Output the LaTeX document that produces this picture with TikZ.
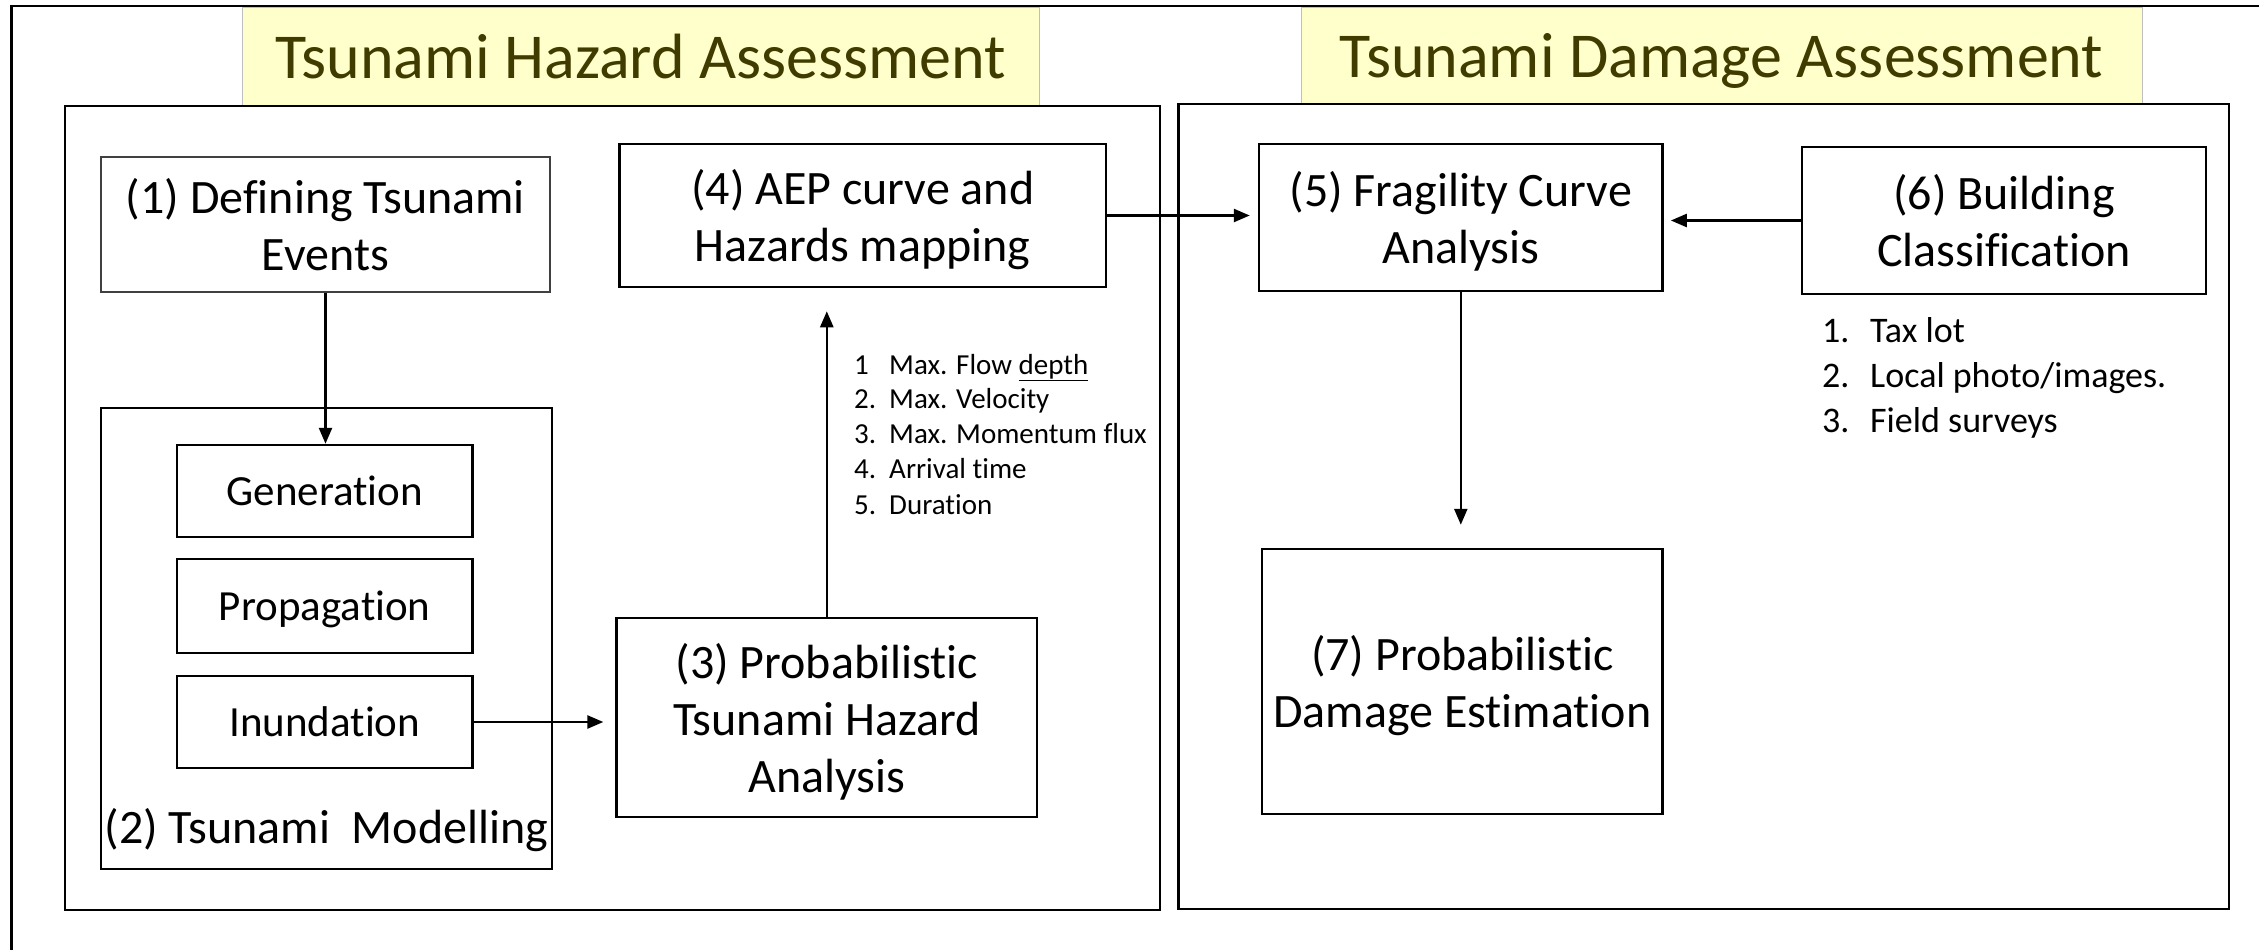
\documentclass[tikz,border=0pt]{standalone}
\usepackage{fontspec}
\setmainfont{Carlito}[Ligatures={NoCommon,NoRare}]
\usetikzlibrary{arrows.meta}
\definecolor{titlefill}{RGB}{255,255,204}
\definecolor{titletext}{RGB}{64,60,0}
\begin{document}
\begin{tikzpicture}[x=1pt,y=-1pt,
  box/.style={draw=black, line width=2.5pt, align=center, inner sep=0pt,
    text depth=0pt, font=\fontsize{48}{57}\selectfont},
  smallbox/.style={box, font=\fontsize{43}{52}\selectfont},
  thinbox/.style={box, draw=black!75, line width=1.2pt},
  panel/.style={draw=black, line width=2.2pt, inner sep=0pt},
  titlebox/.style={fill=titlefill, draw=black!25, line width=0.8pt, inner sep=0pt,
    text depth=0pt, text=titletext, font=\fontsize{64}{72}\selectfont},
  arr/.style={draw=black, line width=2.5pt, -{Triangle[length=16pt,width=13pt]}},
  lista/.style={anchor=base west, inner sep=0pt, font=\fontsize{29}{34}\selectfont},
  listb/.style={anchor=base west, inner sep=0pt, font=\fontsize{36}{42}\selectfont}]
\useasboundingbox (0,0) rectangle (2259,950);
% outer frame
\coordinate (fbl) at (11.5,960);
\coordinate (ftl) at (11.5,6);
\coordinate (ftr) at (2270,6);
\draw[line width=2.2pt] (fbl) -- (ftl) -- (ftr);
% titles
\node[titlebox, minimum width=797, minimum height=98] (t1) at (640.5,56) {Tsunami Hazard Assessment};
\node[titlebox, minimum width=841, minimum height=97] (t2) at (1721.5,55.5) {Tsunami Damage Assessment};
% panels
\node[panel, minimum width=1095, minimum height=804] (pl) at (612.5,508) {};
\node[panel, minimum width=1050.5, minimum height=805] (pr) at (1703.75,506.5) {};
% left panel boxes
\node[thinbox, minimum width=449, minimum height=135] (n1) at (325.5,224.5) {(1) Defining Tsunami\\Events};
\node[box, minimum width=486.5, minimum height=143] (n4) at (862.75,215.5) {(4) AEP curve and\\Hazards mapping};
\node[box, minimum width=451, minimum height=461] (n2) at (326.5,638.5) {};
\node[inner sep=0pt, text depth=0pt, font=\fontsize{48}{57}\selectfont] (n2l) at (326.5,826) {(2) Tsunami\ \ Modelling};
\node[smallbox, minimum width=295.5, minimum height=92] (gen) at (324.75,491) {Generation};
\node[smallbox, minimum width=295.5, minimum height=94] (prop) at (324.75,606) {Propagation};
\node[smallbox, minimum width=295.5, minimum height=92] (inund) at (324.75,722) {Inundation};
\node[box, minimum width=420.4, minimum height=199] (n3) at (826.8,717.5) {(3) Probabilistic\\Tsunami Hazard\\Analysis};
% list 1
\node[lista] (a1) at (854,374) {1};
\node[lista] (a1t) at (889,374) {Max. Flow \underline{depth}};
\node[lista] (a2) at (854,408) {2.};
\node[lista] (a2t) at (889,408) {Max. Velocity};
\node[lista] (a3) at (854,443) {3.};
\node[lista] (a3t) at (889,443) {Max. Momentum flux};
\node[lista] (a4) at (854,478) {4.};
\node[lista] (a4t) at (889,478) {Arrival time};
\node[lista] (a5) at (854,514) {5.};
\node[lista] (a5t) at (889,514) {Duration};
% right panel boxes
\node[box, minimum width=403.6, minimum height=147] (n5) at (1460.8,217.5) {(5) Fragility Curve\\Analysis};
\node[box, minimum width=404, minimum height=147] (n6) at (2004,220.5) {(6) Building\\Classification};
\node[box, minimum width=400.6, minimum height=265] (n7) at (1462.3,681.5) {(7) Probabilistic\\Damage Estimation};
% list 2
\node[listb] (b1) at (1822,342) {1.};
\node[listb] (b1t) at (1870,342) {Tax lot};
\node[listb] (b2) at (1822,387.5) {2.};
\node[listb] (b2t) at (1870,387.5) {Local photo/images.};
\node[listb] (b3) at (1822,432) {3.};
\node[listb] (b3t) at (1870,432) {Field surveys};
% arrows
\draw[arr] (n1.south) -- (n1.south |- gen.north);
\draw[arr, shorten >=12pt] (inund.east) -- (inund.east -| n3.west);
\draw[arr, shorten >=23pt] (n3.north) -- (n3.north |- n4.south);
\draw[arr, shorten >=8pt] (n4.east) -- (n4.east -| n5.west);
\draw[arr, shorten >=7pt] (n6.west) -- (n6.west -| n5.east);
\draw[arr, shorten >=23pt] (n5.south) -- (n5.south |- n7.north);
\end{tikzpicture}
\end{document}
